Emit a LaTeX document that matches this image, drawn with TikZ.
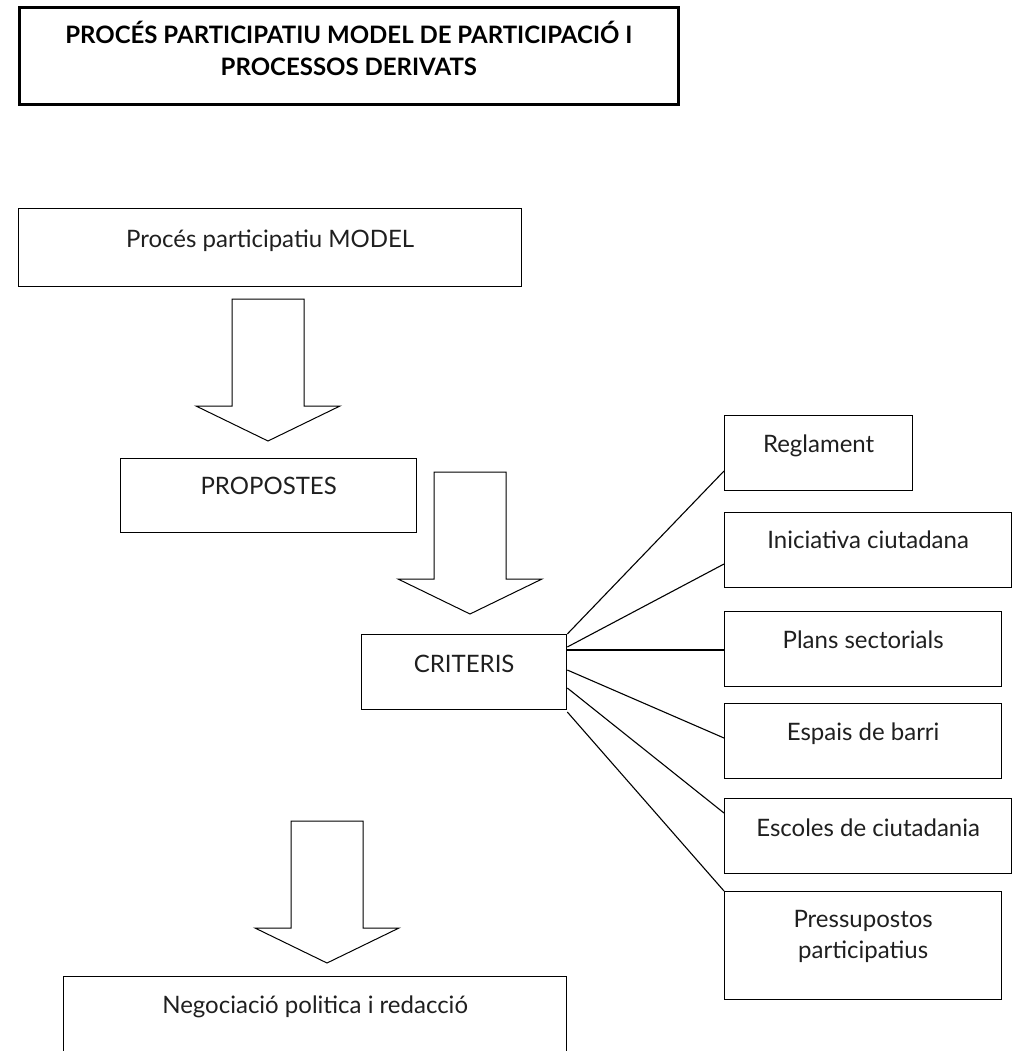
\documentclass[tikz,border=0pt]{standalone}
\usepackage{fontspec}
\setmainfont{Lato}
\begin{document}
\begin{tikzpicture}[x=1pt,y=-1pt,
  box/.style={draw=black, line width=1.3pt, rectangle, inner sep=0pt, anchor=north west},
  lbl/.style={anchor=base, inner sep=0pt, font=\fontsize{24}{31}\selectfont, text=black!88},
  ttl/.style={anchor=base, inner sep=0pt, font=\bfseries\fontsize{24}{32}\selectfont, text=black},
  conn/.style={draw=black, line width=1.1pt},
  blockarrow/.style={draw=black, line width=1pt, fill=white, line join=miter}]
\useasboundingbox (0,0) rectangle (1020,1051);

% title
\node[box, line width=2.6pt, minimum width=659pt, minimum height=97pt] (title) at (18,6) {};
\node[ttl] (title1) at ([yshift=-38pt]title.north) {PROCÉS PARTICIPATIU MODEL DE PARTICIPACIÓ I};
\node[ttl] (title2) at ([yshift=-70pt]title.north) {PROCESSOS DERIVATS};

% main column
\node[box, minimum width=503pt, minimum height=78pt] (model) at (18,208) {};
\node[lbl] (model-t) at ([yshift=-39pt]model.north) {Procés participatiu MODEL};

\node[box, minimum width=296pt, minimum height=74pt] (prop) at (120,458) {};
\node[lbl] (prop-t) at ([yshift=-36pt]prop.north) {PROPOSTES};

\node[box, minimum width=205pt, minimum height=75pt] (crit) at (361,634) {};
\node[lbl] (crit-t) at ([yshift=-38pt]crit.north) {CRITERIS};

\node[box, minimum width=503pt, minimum height=75pt] (neg) at (63,976) {};
\node[lbl] (neg-t) at ([yshift=-37pt]neg.north) {Negociació politica i redacció};

% right column
\node[box, minimum width=188pt, minimum height=75pt] (regl) at (724,415) {};
\node[lbl] (regl-t) at ([yshift=-37pt]regl.north) {Reglament};

\node[box, minimum width=287pt, minimum height=75pt] (inic) at (724,512) {};
\node[lbl] (inic-t) at ([yshift=-36pt]inic.north) {Iniciativa ciutadana};

\node[box, minimum width=277pt, minimum height=75pt] (plans) at (724,611) {};
\node[lbl] (plans-t) at ([yshift=-37pt]plans.north) {Plans sectorials};

\node[box, minimum width=277pt, minimum height=75pt] (esp) at (724,703) {};
\node[lbl] (esp-t) at ([yshift=-37pt]esp.north) {Espais de barri};

\node[box, minimum width=287pt, minimum height=75pt] (esc) at (724,798) {};
\node[lbl] (esc-t) at ([yshift=-38pt]esc.north) {Escoles de ciutadania};

\node[box, minimum width=277pt, minimum height=108pt] (press) at (724,891) {};
\node[lbl] (press-t1) at ([yshift=-36pt]press.north) {Pressupostos};
\node[lbl] (press-t2) at ([yshift=-67pt]press.north) {participatius};

% connectors
\draw[conn] (crit.north east) -- ([yshift=-56pt]regl.north west);
\draw[conn] ([yshift=-13pt]crit.north east) -- ([yshift=-52pt]inic.north west);
\draw[conn] ([yshift=-16pt]crit.north east) -- ([yshift=-39pt]plans.north west);
\draw[conn] ([yshift=-36pt]crit.north east) -- ([yshift=-35pt]esp.north west);
\draw[conn] ([yshift=-54pt]crit.north east) -- ([yshift=-15pt]esc.north west);
\draw[conn] ([yshift=-78pt]crit.north east) -- (press.north west);

% block arrows
\foreach \cx/\ty in {268/299, 470/472, 327/821}{
  \draw[blockarrow] (\cx-36,\ty) -- (\cx+36,\ty) -- (\cx+36,\ty+107) -- (\cx+72,\ty+107)
    -- (\cx,\ty+142) -- (\cx-72,\ty+107) -- (\cx-36,\ty+107) -- cycle;
}
\end{tikzpicture}
\end{document}
